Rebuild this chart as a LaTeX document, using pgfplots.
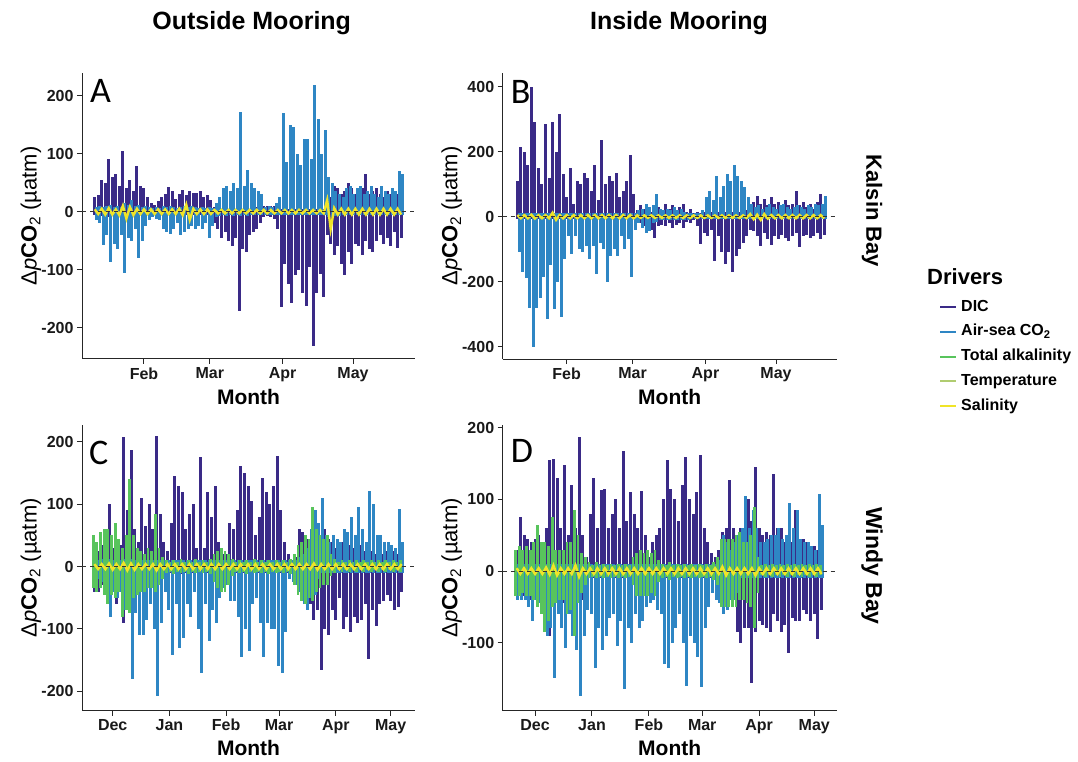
\documentclass[border=0pt]{standalone}
\usepackage{fontspec}
\setmainfont{Liberation Sans}
\newfontfamily\carlito{Carlito}
\usepackage{pgfplots}
\pgfplotsset{compat=1.18}
\usepackage{pgfplotstable}

\definecolor{dic}{RGB}{58,42,135}
\definecolor{air}{RGB}{46,134,196}
\definecolor{ta}{RGB}{88,196,92}
\definecolor{tmp}{RGB}{176,204,112}
\definecolor{sal}{RGB}{240,228,40}

% Panel A: Kalsin Bay, outside
\pgfplotstableread{
d dp dn ap an s
10 25 -5 8 -15 4
11.5 28 -6 10 -20 -4
13 55 -8 8 -58 5
14.5 50 -6 10 -40 -5
16 90 -10 12 -87 6
17.5 60 -8 8 -55 -5
19 65 -6 10 -65 4
20.5 45 -8 8 -40 -6
22 105 -10 15 -105 10
23.5 40 -8 12 -45 -12
25 55 -6 20 -50 8
26.5 35 -8 10 -30 -6
28 78 -10 12 -80 5
29.5 45 -6 8 -50 -4
31 40 -8 10 -25 4
32.5 25 -5 8 -15 -4
34 15 -5 6 -10 4
35.5 12 -5 8 -12 -4
37 18 -5 6 -15 4
38.5 25 -6 10 -30 -4
40 30 -6 8 -35 4
41.5 42 -5 10 -38 -4
43 35 -6 8 -30 4
44.5 22 -5 6 -20 -4
46 30 -6 8 -40 5
47.5 38 -5 10 -35 -6
49 28 -6 8 -30 12
50.5 35 -5 10 -25 -14
52 33 -6 8 -30 5
53.5 32 -5 6 -25 -4
55 36 -6 8 -30 4
56.5 25 -5 6 -20 -4
58 28 -6 8 -45 4
59.5 20 -5 6 -25 -4
61 8 -20 15 -10 3
62.5 5 -30 25 -8 -3
64 5 -45 40 -6 3
65.5 5 -35 45 -8 -3
67 5 -50 35 -6 3
68.5 5 -60 50 -8 -3
70 5 -45 40 -6 3
71.5 5 -172 171 -8 -3
73 5 -65 45 -6 3
74.5 5 -70 72 -8 -3
76 5 -40 50 -6 3
77.5 6 -35 40 -6 -3
79 8 -30 35 -5 3
80.5 8 -20 30 -5 -3
82 10 -10 8 -5 3
83.5 10 -8 10 -5 -3
85 10 -10 8 -5 3
86.5 10 -12 15 -5 -3
88 8 -30 25 -5 3
89.5 5 -165 170 -5 -3
91 5 -90 85 -5 3
92.5 5 -125 150 -5 -3
94 5 -158 146 -5 3
95.5 5 -110 100 -5 -3
97 5 -100 80 -5 3
98.5 5 -140 125 -5 -3
100 5 -162 125 -5 3
101.5 5 -95 90 -5 -3
103 5 -232 218 -5 3
104.5 5 -140 160 -5 -3
106 5 -108 100 -5 3
107.5 5 -147 140 -5 -3
109 10 -40 60 -10 20
110.5 25 -55 50 -10 -30
112 45 -75 35 -8 6
113.5 40 -60 30 -8 -5
115 30 -90 25 -6 5
116.5 35 -110 40 -6 -5
118 50 -70 45 -6 5
119.5 40 -90 30 -6 -5
121 30 -55 40 -6 5
122.5 35 -60 45 -6 -5
124 40 -75 30 -6 5
125.5 65 -50 35 -6 -5
127 30 -65 45 -6 5
128.5 35 -70 30 -6 -5
130 40 -50 25 -6 5
131.5 30 -40 45 -6 -5
133 25 -55 35 -6 5
134.5 35 -45 30 -6 -5
136 30 -60 40 -6 5
137.5 25 -35 35 -6 -5
139 30 -62 70 -6 5
140.5 25 -45 65 -6 -5
}\tA

% Panel B: Kalsin Bay, inside
\pgfplotstableread{
d dp dn ap an s
10 110 -8 10 -110 5
11.5 215 -8 10 -170 -5
13 200 -8 10 -190 5
14.5 160 -8 10 -280 -5
16 400 -8 10 -400 6
17.5 290 -8 10 -280 -6
19 150 -8 10 -250 5
20.5 100 -8 10 -185 -5
22 285 -8 10 -315 5
23.5 120 -8 10 -150 -5
25 290 -8 10 -285 12
26.5 200 -8 10 -200 -10
28 315 -8 10 -310 5
29.5 130 -8 10 -130 -5
31 60 -8 10 -60 5
32.5 150 -8 10 -115 -5
34 40 -8 10 -60 5
35.5 110 -8 10 -100 -5
37 100 -8 10 -110 5
38.5 135 -8 10 -90 -5
40 120 -8 10 -130 5
41.5 80 -8 10 -90 -5
43 160 -8 10 -175 5
44.5 50 -8 10 -80 -5
46 235 -8 10 -100 5
47.5 100 -8 10 -200 -5
49 125 -8 10 -120 5
50.5 110 -8 10 -100 -5
52 135 -8 10 -120 5
53.5 60 -8 10 -60 -5
55 80 -8 10 -100 5
56.5 110 -8 10 -70 -5
58 190 -8 10 -185 5
59.5 70 -8 10 -40 -5
61 20 -15 20 -20 4
62.5 35 -20 25 -35 -4
64 25 -30 40 -50 4
65.5 30 -25 30 -45 -4
67 15 -40 35 -20 4
68.5 20 -65 70 -15 -4
70 30 -30 25 -10 4
71.5 20 -25 20 -10 -4
73 40 -30 25 -10 4
74.5 25 -20 20 -10 -4
76 35 -35 30 -10 4
77.5 20 -25 20 -10 -4
79 30 -20 25 -10 4
80.5 40 -35 15 -10 -4
82 15 -15 10 -10 4
83.5 25 -20 10 -8 -4
85 10 -10 10 -8 4
86.5 15 -30 10 -8 -4
88 10 -85 20 -8 4
89.5 15 -50 60 -8 -4
91 20 -60 80 -8 4
92.5 15 -40 50 -8 -4
94 10 -135 125 -8 4
95.5 15 -60 60 -8 -4
97 10 -110 95 -8 4
98.5 15 -145 130 -8 -4
100 10 -110 110 -8 4
101.5 15 -170 160 -8 -4
103 10 -120 125 -8 4
104.5 15 -100 110 -8 -4
106 10 -80 90 -8 4
107.5 20 -60 60 -8 -4
109 25 -40 40 -8 8
110.5 45 -45 30 -8 -8
112 65 -60 35 -8 6
113.5 40 -90 25 -8 -10
115 55 -50 30 -8 8
116.5 35 -70 40 -8 -6
118 60 -88 30 -8 5
119.5 40 -60 25 -8 -5
121 45 -70 35 -8 5
122.5 30 -55 40 -8 -5
124 50 -65 30 -8 5
125.5 35 -75 25 -8 -5
127 40 -60 30 -8 5
128.5 80 -50 35 -8 -5
130 35 -93 30 -8 5
131.5 45 -60 25 -8 -5
133 30 -55 35 -8 5
134.5 40 -65 30 -8 -5
136 25 -60 40 -8 5
137.5 45 -50 35 -8 -5
139 70 -70 40 -8 5
140.5 35 -55 65 -8 -5
}\tB

% Panel C: Windy Bay, outside
\pgfplotstableread{
d dp dn ap an tp tn s
-10 30 -40 10 -20 50 -35 4
-8 25 -40 10 -20 40 -40 -4
-6 35 -30 12 -25 55 -35 4
-4 40 -25 10 -30 60 -45 -4
-2 100 -30 12 -80 60 -60 5
0 30 -40 10 -40 50 -45 -5
2 45 -60 12 -50 70 -50 4
4 35 -40 10 -40 45 -40 -4
6 207 -90 12 -70 30 -80 6
8 90 -50 10 -60 50 -70 -6
10 187 -70 12 -180 140 -75 5
12 60 -40 10 -75 50 -50 -5
14 40 -30 10 -110 30 -45 4
16 110 -35 10 -110 25 -40 -4
18 65 -30 10 -85 20 -40 4
20 100 -35 10 -60 30 -35 -4
22 60 -25 10 -100 25 -35 4
24 210 -30 10 -208 85 -40 -6
26 85 -25 10 -90 30 -30 4
28 40 -15 10 -40 15 -20 -4
30 25 -12 10 -70 10 -10 4
32 70 -10 10 -142 8 -8 -4
34 145 -12 10 -60 10 -12 4
36 130 -10 10 -130 8 -8 -4
38 120 -12 10 -115 12 -10 4
40 60 -10 10 -60 8 -8 -4
42 85 -10 10 -80 10 -12 4
44 100 -10 10 -40 8 -8 -4
46 30 -10 10 -100 12 -10 4
48 175 -10 10 -170 8 -8 -4
50 30 -10 10 -60 10 -10 4
52 120 -10 10 -120 8 -8 -4
54 80 -10 10 -70 12 -12 4
56 130 -10 10 -90 20 -25 -4
58 40 -10 10 -50 25 -35 4
60 20 -10 10 -35 30 -40 -4
62 20 -10 10 -30 25 -40 4
64 70 -10 10 -55 20 -30 -4
66 60 -10 10 -55 12 -15 4
68 90 -10 10 -80 8 -8 -4
70 162 -10 10 -145 10 -10 4
72 150 -10 10 -100 8 -8 -4
74 130 -10 10 -135 10 -12 4
76 105 -10 10 -60 8 -8 -4
78 50 -10 10 -50 12 -10 4
80 80 -10 10 -90 8 -8 -4
82 142 -10 10 -145 10 -10 4
84 120 -10 10 -90 8 -8 -4
86 100 -10 10 -100 10 -12 4
88 130 -10 10 -100 8 -8 -4
90 178 -10 10 -160 10 -10 4
92 90 -10 10 -170 8 -8 -4
94 40 -10 10 -105 10 -10 4
96 20 -10 10 -20 8 -8 -4
98 10 -10 10 -25 12 -12 4
100 15 -15 10 -30 20 -30 -4
102 60 -20 15 -40 35 -45 4
104 55 -25 20 -60 40 -55 -4
106 45 -40 30 -70 50 -60 4
108 30 -60 60 -50 45 -50 -4
110 30 -85 90 -45 95 -55 5
112 30 -70 70 -20 60 -40 -5
114 30 -165 110 -10 50 -35 4
116 60 -100 50 -10 45 -30 -4
118 45 -110 40 -10 50 -30 4
120 40 -70 50 -10 20 -15 -4
122 30 -85 45 -10 12 -10 4
124 35 -50 40 -10 8 -6 -4
126 40 -100 60 -10 10 -8 4
128 45 -80 55 -10 8 -6 -4
130 35 -105 80 -10 10 -8 4
132 30 -80 50 -10 8 -6 -4
134 30 -90 95 -10 10 -8 4
136 35 -85 60 -10 8 -6 -4
138 25 -60 40 -10 10 -8 4
140 20 -148 122 -10 8 -6 -4
142 25 -70 100 -10 10 -8 4
144 20 -95 50 -10 8 -6 -4
146 25 -60 50 -10 10 -8 4
148 20 -55 40 -10 8 -6 -4
150 25 -45 40 -10 10 -8 4
152 20 -55 35 -10 8 -6 -4
154 25 -70 30 -10 10 -8 4
156 20 -65 93 -10 8 -6 -4
158 25 -40 40 -10 10 -8 4
}\tC

% Panel D: Windy Bay, inside
\pgfplotstableread{
d dp dn ap an tp tn s
-10 30 -20 10 -40 30 -35 4
-8 75 -30 10 -40 35 -35 -4
-6 50 -35 10 -40 30 -30 4
-4 45 -30 10 -50 35 -35 -4
-2 40 -40 10 -70 30 -35 4
0 45 -30 10 -40 40 -40 -4
2 50 -25 10 -45 65 -50 4
4 35 -30 10 -60 40 -60 -4
6 60 -40 10 -90 40 -85 5
8 155 -90 10 -80 35 -70 -5
10 157 -45 10 -150 75 -50 8
12 130 -40 10 -60 30 -45 -6
14 60 -50 10 -80 30 -40 4
16 148 -45 10 -108 30 -40 -4
18 50 -55 10 -60 40 -60 4
20 120 -50 10 -90 40 -55 -4
22 60 -45 10 -110 85 -90 8
24 187 -45 10 -175 50 -45 -8
26 50 -40 10 -90 25 -30 4
28 20 -20 10 -55 20 -20 -4
30 80 -10 10 -60 12 -10 4
32 130 -10 10 -135 8 -8 -4
34 60 -10 10 -80 12 -10 4
36 113 -10 10 -110 8 -8 -4
38 115 -10 10 -90 10 -10 4
40 60 -10 10 -65 8 -8 -4
42 80 -10 10 -60 10 -10 4
44 100 -10 10 -105 8 -8 -4
46 60 -10 10 -70 10 -10 4
48 168 -10 10 -165 8 -8 -4
50 70 -10 10 -80 10 -10 4
52 110 -10 10 -100 8 -8 -4
54 80 -10 10 -60 20 -20 4
56 60 -10 10 -80 25 -35 -4
58 112 -10 10 -70 30 -35 4
60 50 -10 10 -50 25 -35 -4
62 20 -10 10 -45 30 -35 4
64 40 -10 10 -40 25 -30 -4
66 50 -10 10 -55 30 -35 4
68 60 -10 10 -60 15 -15 -4
70 100 -10 10 -130 10 -10 4
72 155 -10 10 -135 8 -8 -4
74 115 -10 10 -100 12 -12 4
76 100 -10 10 -80 8 -8 -4
78 70 -10 10 -60 10 -10 4
80 120 -10 10 -100 8 -8 -4
82 160 -10 10 -160 10 -10 4
84 100 -10 10 -90 8 -8 -4
86 80 -10 10 -100 10 -10 4
88 110 -10 10 -120 8 -8 -4
90 162 -10 10 -162 10 -10 4
92 60 -10 10 -80 8 -8 -4
94 40 -10 10 -50 10 -10 4
96 25 -10 10 -30 8 -8 -4
98 20 -10 10 -40 12 -12 4
100 30 -10 15 -45 20 -20 -4
102 55 -15 50 -60 45 -50 6
104 60 -20 40 -55 45 -50 -6
106 127 -30 30 -40 45 -50 4
108 60 -40 40 -40 45 -50 -4
110 50 -85 50 -30 50 -50 4
112 60 -100 60 -10 55 -40 -4
114 40 -80 105 -10 40 -40 4
116 100 -80 60 -10 40 -45 -4
118 70 -157 85 -10 50 -50 4
120 145 -85 60 -10 90 -80 -6
122 60 -70 40 -10 20 -30 4
124 50 -75 40 -10 8 -6 -4
126 55 -80 45 -10 10 -8 4
128 50 -85 50 -10 8 -6 -4
130 135 -60 50 -10 10 -8 4
132 60 -70 60 -10 8 -6 -4
134 60 -85 45 -10 10 -8 4
136 40 -75 50 -10 8 -6 -4
138 45 -115 95 -10 10 -8 4
140 40 -65 60 -10 8 -6 -4
142 85 -70 85 -10 10 -8 4
144 40 -70 45 -10 8 -6 -4
146 45 -55 40 -10 10 -8 4
148 40 -60 40 -10 8 -6 -4
150 30 -70 35 -10 10 -8 4
152 35 -60 30 -10 8 -6 -4
154 30 -95 108 -10 10 -8 4
156 30 -55 65 -10 8 -6 -4
}\tD

\pgfplotsset{
  dicbar/.style={ycomb, no markers, color=dic, line width=3pt, forget plot},
  airbar/.style={ycomb, no markers, color=air, line width=3pt, forget plot},
  tabar/.style={ycomb, no markers, color=ta, line width=2.8pt, forget plot},
  salline/.style={sharp plot, no markers, color=sal, line width=2.4pt, forget plot},
  zeroline/.style={no markers, color=black!80, line width=0.9pt, dash pattern=on 4pt off 4pt, forget plot},
  panel/.style={
    scale only axis,
    axis x line*=bottom, axis y line*=left,
    axis line style={black!85, line width=1pt},
    tick style={black!85, line width=1pt},
    tick align=outside, major tick length=5pt,
    minor tick num=0,
    tick label style={font=\fontsize{16}{16}\selectfont\bfseries, text=black!90},
    every axis x label/.style={at={(axis description cs:0.5,0)}, yshift=-37.5pt, anchor=center, font=\fontsize{21}{21}\selectfont\bfseries},
    every axis y label/.style={at={(axis description cs:0,0.5)}, xshift=-51pt, rotate=90, anchor=center, font=\fontsize{22}{22}\selectfont},
    xlabel={Month},
    ylabel={Δ\textit{p}\textbf{CO}\textsubscript{2} (µatm)},
  },
}
\tikzset{letter/.style={font=\fontsize{36}{36}\selectfont\carlito, anchor=base west, inner sep=0pt}}

\begin{document}
\begin{tikzpicture}
\path[use as bounding box] (0pt,0pt) rectangle (1078pt,761pt);

% ---------- A ----------
\begin{axis}[panel, at={(82pt,402pt)}, anchor=south west, width=333pt, height=286pt,
  xmin=4.6, xmax=146.4, ymin=-254, ymax=239,
  xtick={31,59,90,120}, xticklabels={Feb,Mar,Apr,May},
  ytick={-200,-100,0,100,200}, yticklabels={-200,-100,0,100,200}]
\addplot[dicbar] table[x=d,y=dp]{\tA};
\addplot[dicbar] table[x=d,y=dn]{\tA};
\addplot[airbar, xshift=1.75pt] table[x=d,y=ap]{\tA};
\addplot[airbar, xshift=1.75pt] table[x=d,y=an]{\tA};
\addplot[salline] table[x=d,y=s]{\tA};
\addplot[zeroline] coordinates {(4.6,0) (146.4,0)};
\node[letter, xshift=8pt, yshift=-30pt] at (axis description cs:0,1) {A};
\end{axis}

% ---------- B ----------
\begin{axis}[panel, at={(502.7pt,402pt)}, anchor=south west, width=334pt, height=286pt,
  xmin=3.8, xmax=145.8, ymin=-438, ymax=442,
  xtick={31,59,90,120}, xticklabels={Feb,Mar,Apr,May},
  ytick={-400,-200,0,200,400}, yticklabels={-400,-200,0,200,400},
  legend style={at={(1.3063,0.208)}, anchor=north west, draw=none, fill=none,
    inner sep=0pt, row sep=9.75pt, column sep=4pt,
    font=\fontsize{16}{16}\selectfont\bfseries,
    nodes={inner sep=0pt, text height=11.5pt, text depth=3.5pt}},
  legend cell align=left,
  legend image code/.code={\draw[#1, line width=2pt] (0pt,0pt) -- (16pt,0pt);}]
\addplot[dicbar] table[x=d,y=dp]{\tB};
\addplot[dicbar] table[x=d,y=dn]{\tB};
\addplot[airbar, xshift=1.75pt] table[x=d,y=ap]{\tB};
\addplot[airbar, xshift=1.75pt] table[x=d,y=an]{\tB};
\addplot[salline] table[x=d,y=s]{\tB};
\addplot[zeroline] coordinates {(3.8,0) (145.8,0)};
\node[letter, xshift=8pt, yshift=-31pt] at (axis description cs:0,1) {B};
\addlegendimage{color=dic}\addlegendentry{DIC}
\addlegendimage{color=air}\addlegendentry{Air-sea CO\textsubscript{2}}
\addlegendimage{color=ta}\addlegendentry{Total alkalinity}
\addlegendimage{color=tmp}\addlegendentry{Temperature}
\addlegendimage{color=sal}\addlegendentry{Salinity}
\end{axis}

% ---------- C ----------
\begin{axis}[panel, at={(82pt,50.3pt)}, anchor=south west, width=333pt, height=285.7pt,
  xmin=-16.8, xmax=165.3, ymin=-231, ymax=227,
  xtick={0,31,62,91,122,152}, xticklabels={Dec,Jan,Feb,Mar,Apr,May},
  ytick={-200,-100,0,100,200}, yticklabels={-200,-100,0,100,200}]
\addplot[dicbar] table[x=d,y=dp]{\tC};
\addplot[dicbar] table[x=d,y=dn]{\tC};
\addplot[airbar, xshift=1.2pt] table[x=d,y=ap]{\tC};
\addplot[airbar, xshift=1.2pt] table[x=d,y=an]{\tC};
\addplot[tabar, xshift=-1.2pt] table[x=d,y=tp]{\tC};
\addplot[tabar, xshift=-1.2pt] table[x=d,y=tn]{\tC};
\addplot[salline] table[x=d,y=s]{\tC};
\addplot[zeroline] coordinates {(-16.8,0) (165.3,0)};
\node[letter, xshift=7pt, yshift=-39pt] at (axis description cs:0,1) {C};
\end{axis}

% ---------- D ----------
\begin{axis}[panel, at={(502.7pt,50.3pt)}, anchor=south west, width=334pt, height=285.7pt,
  xmin=-17.6, xmax=164.2, ymin=-195, ymax=204,
  xtick={0,31,62,91,122,152}, xticklabels={Dec,Jan,Feb,Mar,Apr,May},
  ytick={-100,0,100,200}, yticklabels={-100,0,100,200}]
\addplot[dicbar] table[x=d,y=dp]{\tD};
\addplot[dicbar] table[x=d,y=dn]{\tD};
\addplot[airbar, xshift=1.2pt] table[x=d,y=ap]{\tD};
\addplot[airbar, xshift=1.2pt] table[x=d,y=an]{\tD};
\addplot[tabar, xshift=-1.2pt] table[x=d,y=tp]{\tD};
\addplot[tabar, xshift=-1.2pt] table[x=d,y=tn]{\tD};
\addplot[salline] table[x=d,y=s]{\tD};
\addplot[zeroline] coordinates {(-17.6,0) (164.2,0)};
\node[letter, xshift=8pt, yshift=-37pt] at (axis description cs:0,1) {D};
\end{axis}

% ---------- outer texts ----------
\node[font=\fontsize{25}{25}\selectfont\bfseries, anchor=base] at (251.7pt,731pt) {Outside Mooring};
\node[font=\fontsize{25}{25}\selectfont\bfseries, anchor=base] at (679pt,731pt) {Inside Mooring};
\node[font=\fontsize{22}{22}\selectfont\bfseries, rotate=-90] at (872pt,550pt) {Kalsin Bay};
\node[font=\fontsize{23}{23}\selectfont\bfseries, rotate=-90] at (872pt,195pt) {Windy Bay};
\node[font=\fontsize{22}{22}\selectfont\bfseries, anchor=west, inner sep=0pt] at (927pt,484pt) {Drivers};
\end{tikzpicture}
\end{document}
